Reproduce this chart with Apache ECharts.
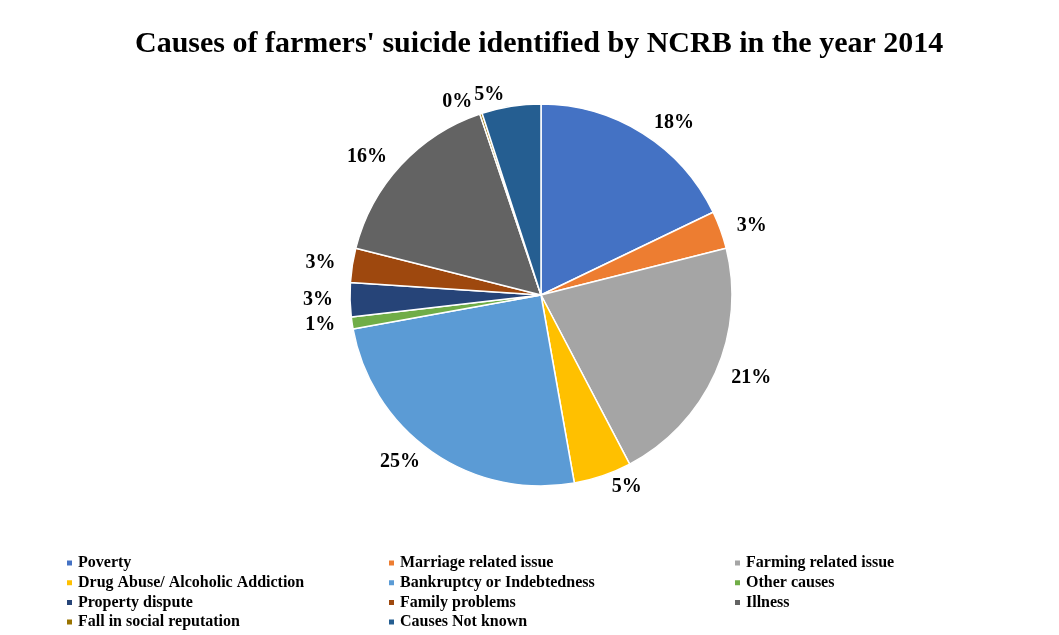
<!DOCTYPE html>
<html>
<head>
<meta charset="utf-8">
<script src="https://cdn.jsdelivr.net/npm/echarts@6/dist/echarts.min.js"></script>
<style>
	html, body { margin: 0; padding: 0; background: #fff; }
	#chart { width: 1059px; height: 635px; }
</style>
</head>
<body>
<div id="chart"></div>
<script>
var causes = ['Poverty', 'Marriage related issue', 'Farming related issue',
	'Drug Abuse/ Alcoholic Addiction', 'Bankruptcy or Indebtedness', 'Other causes',
	'Property dispute', 'Family problems', 'Illness',
	'Fall in social reputation', 'Causes Not known'];
// share of suicides, percent
var shares = [17.9, 3.2, 21.3, 4.9, 25.0, 1.0, 2.9, 2.9, 15.9, 0.2, 5.0];
var colors = ['#4472C4', '#ED7D31', '#A5A5A5', '#FFC000', '#5B9BD5', '#70AD47',
	'#264478', '#9E480E', '#636363', '#997300', '#255E91'];
// legend columns
var legendCol1 = ['Poverty', 'Drug Abuse/ Alcoholic Addiction', 'Property dispute', 'Fall in social reputation'];
var legendCol2 = ['Marriage related issue', 'Bankruptcy or Indebtedness', 'Family problems', 'Causes Not known'];
var legendCol3 = ['Farming related issue', 'Other causes', 'Illness'];

var serif = '"Liberation Serif", "DejaVu Serif", serif';

function makeLegend(names, left) {
	return {
		data: names,
		orient: 'vertical',
		left: left,
		top: 555,
		padding: 0,
		itemWidth: 7,
		itemHeight: 7,
		itemGap: 3.7,
		icon: 'rect',
		textStyle: {
			fontFamily: serif,
			fontWeight: 'bold',
			fontSize: 16,
			lineHeight: 16,
			color: '#000'
		}
	};
}

function renderChart() {
	var data = [];
	for (var i = 0; i < causes.length; i++) {
		data.push({ name: causes[i], value: shares[i] });
	}
	var option = {
		backgroundColor: '#fff',
		color: colors,
		title: {
			text: "Causes of farmers' suicide identified by NCRB in the year 2014",
			left: 130,
			top: 24,
			textStyle: {
				fontFamily: serif,
				fontWeight: 'bold',
				fontSize: 30,
				color: '#000'
			}
		},
		legend: [makeLegend(legendCol1, 65), makeLegend(legendCol2, 387), makeLegend(legendCol3, 733)],
		series: [{
			type: 'pie',
			center: [541, 295],
			radius: 191,
			startAngle: 90,
			clockwise: true,
			avoidLabelOverlap: false,
			itemStyle: {
				borderColor: '#fff',
				borderWidth: 1.5
			},
			label: {
				show: true,
				position: 'outside',
				fontFamily: serif,
				fontWeight: 'bold',
				fontSize: 20,
				color: '#000',
				formatter: function(p) {
					return Math.round(p.percent) + '%';
				}
			},
			labelLine: {
				show: false,
				length: 12,
				length2: 0
			},
			emphasis: { scale: false },
			data: data
		}]
	};
	var chart = echarts.init(document.getElementById('chart'));
	chart.setOption(option);
}
renderChart();
</script>
</body>
</html>
